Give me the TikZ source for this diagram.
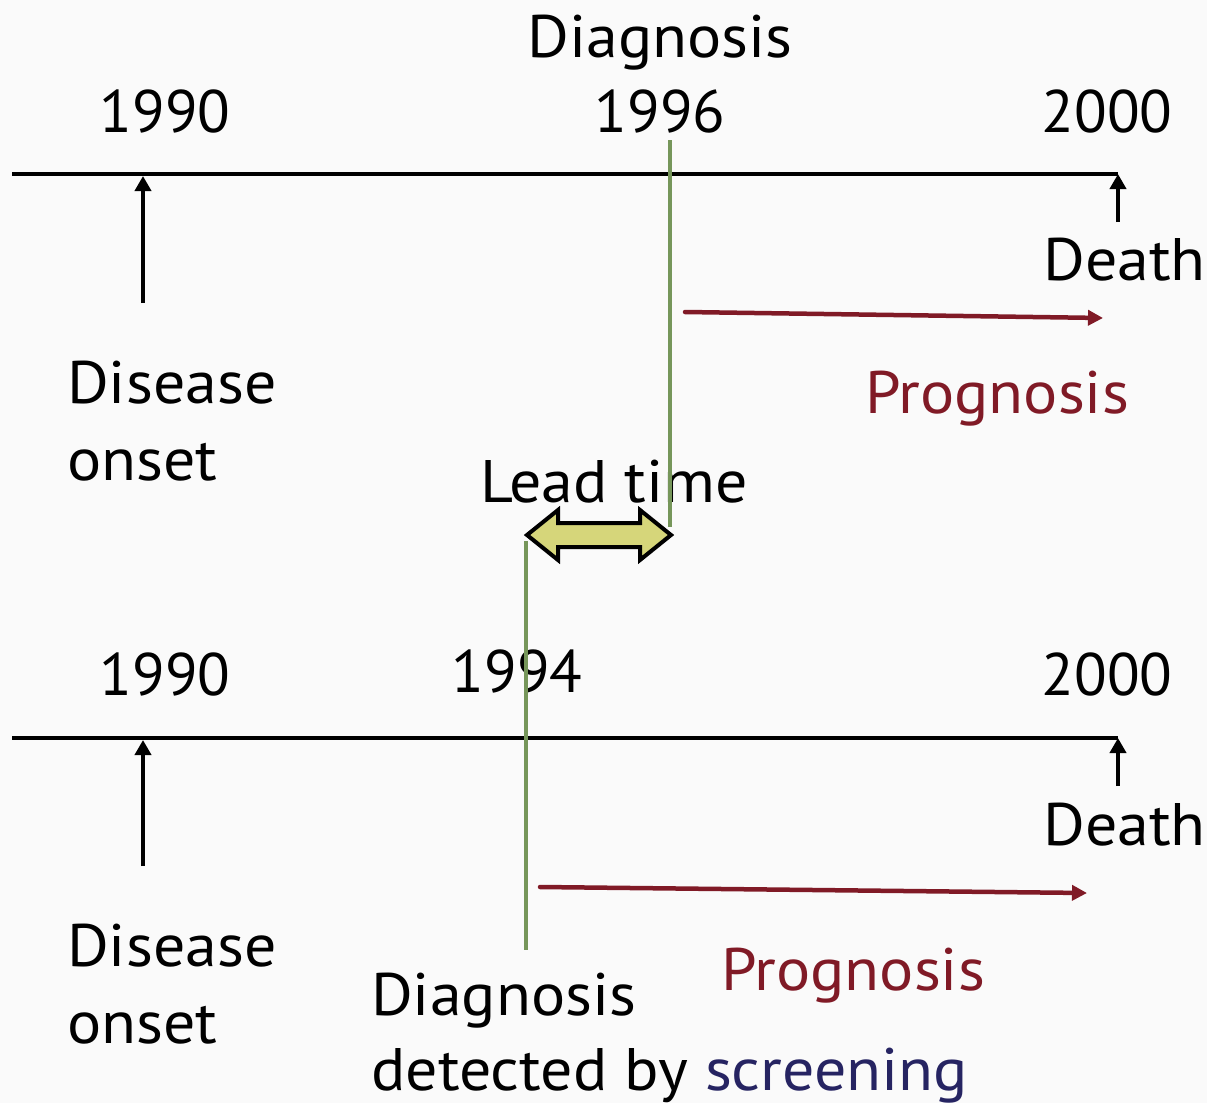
\documentclass[tikz,border=0pt]{standalone}
\usepackage{fontspec}
\setmainfont[FakeStretch=1.065]{PT Sans}
\newfontfamily\yearfont{PT Sans}
\usetikzlibrary{arrows.meta,positioning}
\definecolor{LineGreen}{RGB}{118,150,90}
\definecolor{ProgRed}{RGB}{128,26,38}
\definecolor{ScreenBlue}{RGB}{38,36,98}
\definecolor{LeadFill}{RGB}{214,214,122}
\definecolor{PageGray}{RGB}{250,250,250}
\tikzset{
    lbl/.style={font=\fontsize{60}{66}\selectfont, inner sep=0pt},
    yearlbl/.style={lbl, font=\yearfont\fontsize{60}{66}\selectfont},
    axisline/.style={line width=4pt, black},
    uparrow/.style={line width=4pt, -{Triangle[length=15pt,width=16pt]}},
    progarrow/.style={line width=4.5pt, ProgRed, line cap=round, -{Triangle[length=15pt,width=15pt]}},
    diagline/.style={line width=4pt, LineGreen},
}

\begin{document}
\begin{tikzpicture}[x=1pt,y=-1pt]
    \fill[PageGray] (0,0) rectangle (1207,1103);
    \useasboundingbox (0,0) rectangle (1207,1103);

    % upper timeline: diagnosis in 1996
    \coordinate (topL) at (12,174);
    \coordinate (topR) at (1118,174);
    \coordinate (onsetTipA) at (143,176);
    \coordinate (onsetTailA) at (143,303);
    \coordinate (deathTailA) at (1118,222);
    \coordinate (diagTopA) at (670,140);
    \coordinate (diagBotA) at (670,527);
    \coordinate (progStartA) at (685,312);
    \coordinate (progEndA) at (1103,318);

    \node[lbl, anchor=base] (diagA) at (660,57) {Diagnosis};
    \node[yearlbl, anchor=base] (yrStartA) at (165,132) {1990};
    \node[yearlbl, anchor=base] (yrDiagA) at (660,132) {1996};
    \node[yearlbl, anchor=base] (yrEndA) at (1107,132) {2000};
    \node[lbl, anchor=base west] (deathA) at (1043,280) {Death};
    \node[lbl, anchor=base west] (diseaseA) at (67,403) {Disease};
    \node[lbl, anchor=base west] (onsetA) at (67,480) {onset};
    \node[lbl, anchor=base, text=ProgRed] (progA) at (997,413) {Prognosis};
    \node[lbl, anchor=base] (lead) at (614,502) {Lead time};

    \draw[axisline] (topL) -- (topR);
    \draw[uparrow] (onsetTailA) -- (onsetTipA);
    \draw[uparrow] (deathTailA) -- (topR);
    \draw[diagline] (diagTopA) -- (diagBotA);
    \draw[progarrow] (progStartA) -- (progEndA);

    % lead time arrow
    \filldraw[fill=LeadFill, draw=black, line width=4pt, miter limit=3]
        (527,535) -- (558,510) -- (558,523) -- (640,523) -- (640,510) -- (671,535)
        -- (640,560) -- (640,547) -- (558,547) -- (558,560) -- cycle;

    % lower timeline: diagnosis in 1994
    \coordinate (botL) at (12,738);
    \coordinate (botR) at (1118,738);
    \coordinate (onsetTipB) at (143,740);
    \coordinate (onsetTailB) at (143,866);
    \coordinate (deathTailB) at (1118,786);
    \coordinate (diagTopB) at (526,541);
    \coordinate (diagBotB) at (526,950);
    \coordinate (progStartB) at (540,887);
    \coordinate (progEndB) at (1087,893);

    \node[yearlbl, anchor=base] (yrStartB) at (165,695) {1990};
    \node[yearlbl, anchor=base] (yrDiagB) at (517,692) {1994};
    \node[yearlbl, anchor=base] (yrEndB) at (1107,695) {2000};
    \node[lbl, anchor=base west] (deathB) at (1043,845) {Death};
    \node[lbl, anchor=base west] (diseaseB) at (67,966) {Disease};
    \node[lbl, anchor=base west] (onsetB) at (67,1043) {onset};
    \node[lbl, anchor=base, text=ProgRed] (progB) at (853,990) {Prognosis};
    \node[lbl, anchor=base west] (diagB) at (371,1015) {Diagnosis};
    \node[lbl, anchor=base west] (screenB) at (371,1090) {detected by \textcolor{ScreenBlue}{screening}};

    \draw[axisline] (botL) -- (botR);
    \draw[uparrow] (onsetTailB) -- (onsetTipB);
    \draw[uparrow] (deathTailB) -- (botR);
    \draw[diagline] (diagTopB) -- (diagBotB);
    \draw[progarrow] (progStartB) -- (progEndB);
\end{tikzpicture}
\end{document}
